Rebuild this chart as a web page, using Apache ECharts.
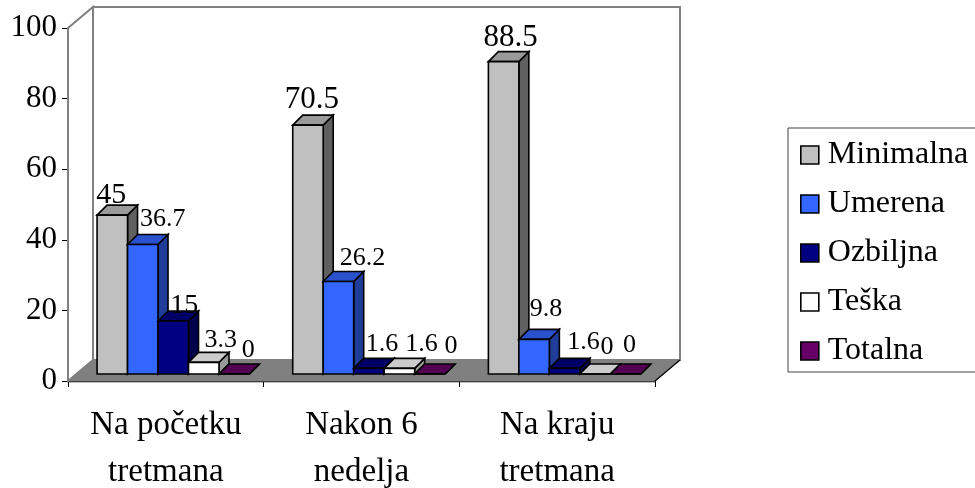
<!DOCTYPE html>
<html>
<head>
<meta charset="utf-8">
<style>html,body{margin:0;padding:0;background:#fff}#chart{width:975px;height:488px}</style>
<script src="https://cdn.jsdelivr.net/npm/echarts@6/dist/echarts.min.js"></script>
</head>
<body>
<div id="chart"></div>
<script>
// Share of patients by severity at three points of the treatment
const categories = ['Na početku\ntretmana', 'Nakon 6\nnedelja', 'Na kraju\ntretmana'];
const minimalna = [45, 70.5, 88.5];
const umerena = [36.7, 26.2, 9.8];
const ozbiljna = [15, 1.6, 1.6];
const teska = [3.3, 1.6, 0];
const totalna = [0, 0, 0];
const yTicks = { min: 0, max: 100, interval: 20 };

const FONT = '"Liberation Serif", serif';

// Face colours for each series: front, top, side
const palette = [
  { name: 'Minimalna', values: minimalna, front: '#C0C0C0', top: '#9A9A9A', side: '#606060' },
  { name: 'Umerena', values: umerena, front: '#3366FF', top: '#2952CC', side: '#1F3D99' },
  { name: 'Ozbiljna', values: ozbiljna, front: '#000080', top: '#000066', side: '#00004D' },
  { name: 'Teška', values: teska, front: '#FFFFFF', top: '#CCCCCC', side: '#999999' },
  { name: 'Totalna', values: totalna, front: '#660066', top: '#520052', side: '#3D003D' }
];

// Value label placement relative to the bar's top centre: [dx, dy, font size]
const labelPlacement = [
  [[-1, -20, 30], [4, -25, 31], [7, -24, 31]],
  [[20, -25, 26], [24, -23, 26], [12, -30, 26]],
  [[11, -15, 28], [13, -24, 26], [19, -26, 26]],
  [[17, -22, 26], [22, -24, 26], [12, -27, 26]],
  [[14, -24, 26], [21, -28, 26], [4, -29, 26]]
];

// Oblique projection of the box
const WALL_DX = 25, WALL_DY = 21;   // floor and walls
const BAR_DX = 10, BAR_DY = 10;     // bar depth
const FLOOR_LIFT = 7;               // bars stand this far behind the front edge
const BAR_RATIO = 0.1558;           // bar width as a share of a category
const BAR_START = -0.3515;          // first bar's left edge from the category centre

function poly(points, fill, stroke, width, z2) {
  return {
    type: 'polygon', z2: z2 || 0,
    shape: { points: points },
    style: { fill: fill, stroke: stroke, lineWidth: width, lineJoin: 'miter' }
  };
}

function renderBox(params, api) {
  const cat = api.size([1, 0])[0];
  const cx0 = api.coord([0, 0])[0];
  const left = cx0 - cat / 2;
  const right = left + cat * categories.length;
  const y0 = api.coord([0, 0])[1];
  const y100 = api.coord([0, yTicks.max])[1];
  const grey = '#808080';
  return {
    type: 'group',
    children: [
      poly([[left, y100], [left + WALL_DX, y100 - WALL_DY], [left + WALL_DX, y0 - WALL_DY], [left, y0]], '#fff', grey, 2),
      poly([[left + WALL_DX, y100 - WALL_DY], [right + WALL_DX, y100 - WALL_DY], [right + WALL_DX, y0 - WALL_DY], [left + WALL_DX, y0 - WALL_DY]], '#fff', grey, 2),
      poly([[left, y0], [left + WALL_DX, y0 - WALL_DY], [right + WALL_DX, y0 - WALL_DY], [right, y0]], grey, grey, 1),
      { type: 'line', shape: { x1: right, y1: y0, x2: right + WALL_DX, y2: y0 - WALL_DY }, style: { stroke: '#000', lineWidth: 1.2 } }
    ]
  };
}

function renderBar(seriesIdx) {
  const p = palette[seriesIdx];
  return function (params, api) {
    const c = api.value(0), v = api.value(1);
    const cat = api.size([1, 0])[0];
    const w = cat * BAR_RATIO;
    const cx = api.coord([c, 0])[0];
    const x = cx + cat * (BAR_START + BAR_RATIO * seriesIdx);
    const base = api.coord([c, 0])[1] - FLOOR_LIFT;
    const top = api.coord([c, v])[1] - FLOOR_LIFT;
    const lw = 1.6;
    const place = labelPlacement[seriesIdx][c];
    return {
      type: 'group',
      children: [
        poly([[x + w, top], [x + w + BAR_DX, top - BAR_DY], [x + w + BAR_DX, base - BAR_DY], [x + w, base]], p.side, '#000', lw),
        poly([[x, top], [x + BAR_DX, top - BAR_DY], [x + w + BAR_DX, top - BAR_DY], [x + w, top]], p.top, '#000', lw),
        poly([[x, top], [x + w, top], [x + w, base], [x, base]], p.front, '#000', lw),
        {
          type: 'text', z2: 100,
          x: x + w / 2 + place[0], y: top + place[1],
          style: {
            text: String(v), fill: '#000', font: place[2] + 'px ' + FONT,
            align: 'center', verticalAlign: 'middle'
          }
        }
      ]
    };
  };
}

const barSeries = palette.map((p, i) => ({
  name: p.name,
  type: 'custom',
  z: 3,
  renderItem: renderBar(i),
  encode: { x: 0, y: 1 },
  itemStyle: { color: p.front, borderColor: '#000', borderWidth: 1.6 },
  data: p.values.map((v, c) => [c, v])
}));

const chart = echarts.init(document.getElementById('chart'));
chart.setOption({
  animation: false,
  backgroundColor: '#fff',
  grid: { left: 68, right: 320, top: 28, bottom: 107, outerBoundsMode: 'none' },
  legend: {
    orient: 'vertical',
    left: 788, top: 128,
    padding: [11, 60, 5, 12],
    itemWidth: 18, itemHeight: 18, itemGap: 17,
    icon: 'rect',
    borderColor: '#404040', borderWidth: 1,
    textStyle: { fontFamily: FONT, fontSize: 32, color: '#000', padding: [0, 0, 0, 4] },
    itemStyle: { borderColor: '#000', borderWidth: 1.6 },
    data: palette.map(p => p.name)
  },
  xAxis: {
    type: 'category',
    data: categories,
    boundaryGap: true,
    axisLine: { lineStyle: { color: '#000', width: 1.4 } },
    axisTick: { show: true, length: 6, lineStyle: { color: '#000', width: 1 } },
    axisLabel: { interval: 0, margin: 21, fontFamily: FONT, fontSize: 33, lineHeight: 47, color: '#000' }
  },
  yAxis: {
    type: 'value',
    min: yTicks.min, max: yTicks.max, interval: yTicks.interval,
    splitLine: { show: false },
    axisLine: { show: true, lineStyle: { color: '#000', width: 1.4 } },
    axisTick: { show: true, length: 6, lineStyle: { color: '#000', width: 1 } },
    axisLabel: { margin: 11, fontFamily: FONT, fontSize: 31, color: '#000', padding: [5, 0, 0, 0] }
  },
  series: [
    {
      name: 'box', type: 'custom', z: 1, silent: true,
      renderItem: renderBox, encode: { x: 0, y: 1 }, data: [[0, 0]]
    }
  ].concat(barSeries)
});
</script>
</body>
</html>
